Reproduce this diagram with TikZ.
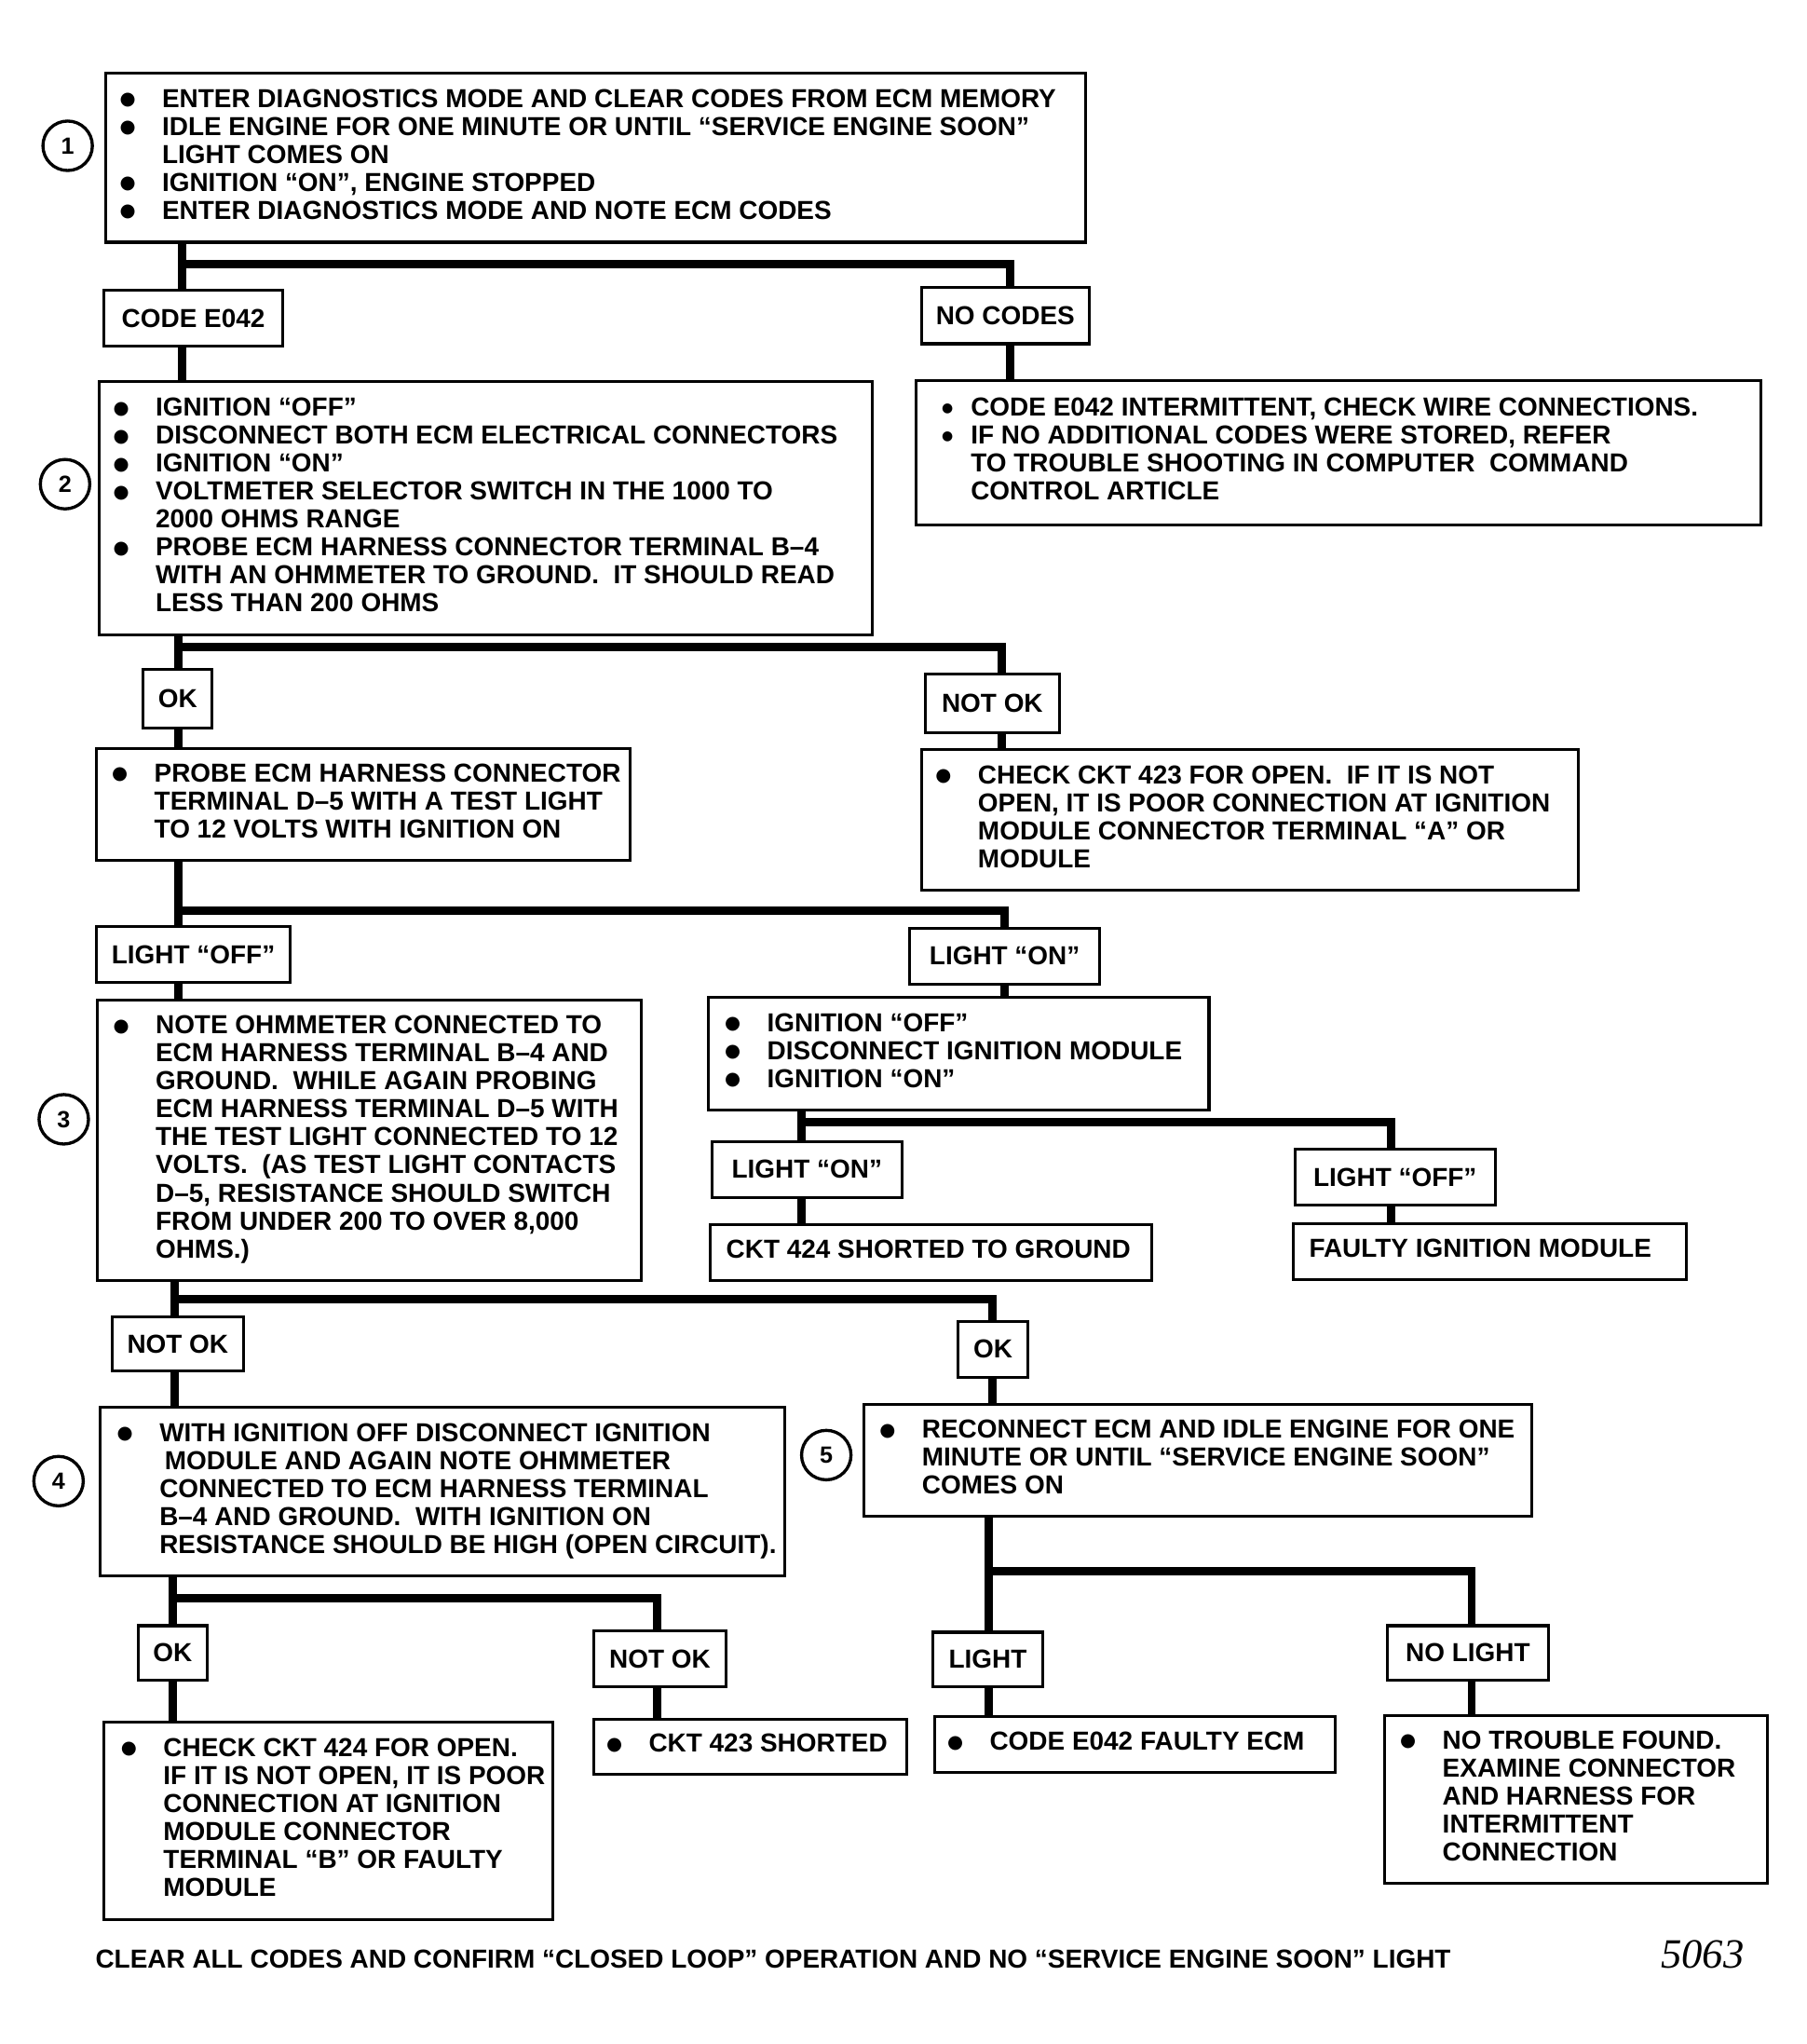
\documentclass[tikz,border=0pt]{standalone}
\usepackage{fontspec}
\setmainfont{Liberation Sans}
\newfontfamily\serifit{Liberation Serif}
\newfontfamily\dvs{DejaVu Sans}
\newcommand\bul{\makebox[15.5pt][l]{\makebox[4.5pt][c]{\raisebox{0.9pt}{\dvs\fontsize{7}{7}\selectfont ●}}}}
\newcommand\ind{\hspace*{15.5pt}}
\newcommand\bulb{\makebox[11.25pt][l]{\makebox[4.5pt][c]{\raisebox{1.3pt}{\dvs\fontsize{5}{5}\selectfont ●}}}}
\newcommand\indb{\hspace*{11.25pt}}
\newcommand\tb[2]{\makebox[#1][l]{\begin{tabular}{@{}l@{}}#2\end{tabular}}}
\begin{document}
\begin{tikzpicture}[x=0.5pt,y=-0.5pt,
  every node/.style={font=\fontsize{10}{10.75}\selectfont\bfseries},
  box/.style={draw, line width=1.1pt, inner ysep=0pt, anchor=north west},
  lbl/.style={draw, line width=1.1pt, inner sep=0pt, anchor=north west},
  num/.style={draw, circle, line width=1.2pt, inner sep=0pt, minimum size=19pt, font=\fontsize{9}{9}\selectfont\bfseries},
  conn/.style={line width=3.2pt, line join=miter, line cap=butt}]
\useasboundingbox (0,0) rectangle (1388,1570.5);
\fill[white] (0,0) rectangle (1388,1570.5);

% ---------- row 1
\node[box, inner xsep=6.25pt, minimum height=65pt] (b1) at (80,55) {\tb{364pt}{%
\bul ENTER DIAGNOSTICS MODE AND CLEAR CODES FROM ECM MEMORY\\
\bul IDLE ENGINE FOR ONE MINUTE OR UNTIL “SERVICE ENGINE SOON”\\
\ind LIGHT COMES ON\\
\bul IGNITION “ON”, ENGINE STOPPED\\
\bul ENTER DIAGNOSTICS MODE AND NOTE ECM CODES}};
\node[num] (c1) at (52,112) {1};

\node[lbl, minimum width=68.5pt, minimum height=21.5pt] (lCode) at (79,222) {CODE E042};
\node[lbl, minimum width=64.5pt, minimum height=21.5pt] (lNoCodes) at (707,220) {NO CODES};

% ---------- row 2
\node[box, inner xsep=6.25pt, minimum height=97.5pt] (b2) at (75,292) {\tb{284.5pt}{%
\bul IGNITION “OFF”\\
\bul DISCONNECT BOTH ECM ELECTRICAL CONNECTORS\\
\bul IGNITION “ON”\\
\bul VOLTMETER SELECTOR SWITCH IN THE 1000 TO\\
\ind 2000 OHMS RANGE\\
\bul PROBE ECM HARNESS CONNECTOR TERMINAL B--4\\
\ind WITH AN OHMMETER TO GROUND.\ \ IT SHOULD READ\\
\ind LESS THAN 200 OHMS}};
\node[num] (c2) at (50,372) {2};

\node[box, inner xsep=9.75pt, minimum height=55.5pt] (bR1) at (703,291) {\tb{305pt}{%
\bulb CODE E042 INTERMITTENT, CHECK WIRE CONNECTIONS.\\
\bulb IF NO ADDITIONAL CODES WERE STORED, REFER\\
\indb TO TROUBLE SHOOTING IN COMPUTER\ \ COMMAND\\
\indb CONTROL ARTICLE}};

\node[lbl, minimum width=26.5pt, minimum height=22.5pt] (lOK1) at (109,513) {OK};
\node[lbl, minimum width=51.5pt, minimum height=22.5pt] (lNotOK1) at (710,517) {NOT OK};

% ---------- row 3
\node[box, inner xsep=6.75pt, minimum height=43pt] (bProbe) at (73,574) {\tb{191.5pt}{%
\bul PROBE ECM HARNESS CONNECTOR\\
\ind TERMINAL D--5 WITH A TEST LIGHT\\
\ind TO 12 VOLTS WITH IGNITION ON}};

\node[box, inner xsep=6.25pt, minimum height=54pt] (bR2) at (707,575) {\tb{240pt}{%
\bul CHECK CKT 423 FOR OPEN.\ \ IF IT IS NOT\\
\ind OPEN, IT IS POOR CONNECTION AT IGNITION\\
\ind MODULE CONNECTOR TERMINAL “A” OR\\
\ind MODULE}};

\node[lbl, minimum width=74.5pt, minimum height=21.5pt] (lOff1) at (73,711) {LIGHT “OFF”};
\node[lbl, minimum width=73pt, minimum height=21.5pt] (lOn1) at (698,712) {LIGHT “ON”};

% ---------- row 4
\node[box, inner xsep=6.75pt, minimum height=108pt] (b3) at (74,767) {\tb{195.5pt}{%
\bul NOTE OHMMETER CONNECTED TO\\
\ind ECM HARNESS TERMINAL B--4 AND\\
\ind GROUND.\ \ WHILE AGAIN PROBING\\
\ind ECM HARNESS TERMINAL D--5 WITH\\
\ind THE TEST LIGHT CONNECTED TO 12\\
\ind VOLTS.\ \ (AS TEST LIGHT CONTACTS\\
\ind D--5, RESISTANCE SHOULD SWITCH\\
\ind FROM UNDER 200 TO OVER 8,000\\
\ind OHMS.)}};
\node[num] (c3) at (49,860) {3};

\node[box, inner xsep=7.25pt, minimum height=43.5pt] (bIgn) at (543,765) {\tb{178pt}{%
\bul IGNITION “OFF”\\
\bul DISCONNECT IGNITION MODULE\\
\bul IGNITION “ON”}};

\node[lbl, minimum width=73pt, minimum height=21.5pt] (lOn2) at (546,876) {LIGHT “ON”};
\node[lbl, minimum width=77pt, minimum height=21.5pt] (lOff2) at (994,882) {LIGHT “OFF”};
\node[box, inner xsep=6pt, minimum height=21.5pt] (bCkt424) at (545,940) {\tb{157.5pt}{CKT 424 SHORTED TO GROUND}};
\node[box, inner xsep=6pt, minimum height=21.5pt] (bFaulty) at (993,939) {\tb{139pt}{FAULTY IGNITION MODULE}};

% ---------- row 5
\node[lbl, minimum width=50.5pt, minimum height=20.5pt] (lNotOK2) at (85,1011) {NOT OK};
\node[lbl, minimum width=27pt, minimum height=21.5pt] (lOK2) at (735,1014) {OK};

\node[box, inner xsep=7.25pt, minimum height=65pt] (b4) at (76,1080) {\tb{248.5pt}{%
\bul WITH IGNITION OFF DISCONNECT IGNITION\\
\ind\hspace*{2pt}MODULE AND AGAIN NOTE OHMMETER\\
\ind CONNECTED TO ECM HARNESS TERMINAL\\
\ind B--4 AND GROUND.\ \ WITH IGNITION ON\\
\ind RESISTANCE SHOULD BE HIGH (OPEN CIRCUIT).}};
\node[num] (c4) at (45,1138) {4};

\node[box, inner xsep=6.75pt, minimum height=43pt] (b5) at (663,1078) {\tb{243pt}{%
\bul RECONNECT ECM AND IDLE ENGINE FOR ONE\\
\ind MINUTE OR UNTIL “SERVICE ENGINE SOON”\\
\ind COMES ON}};
\node[num] (c5) at (635,1118) {5};

% ---------- row 6
\node[lbl, minimum width=26.5pt, minimum height=21pt] (lOK3) at (105,1248) {OK};
\node[lbl, minimum width=51pt, minimum height=21.5pt] (lNotOK3) at (455,1252) {NOT OK};
\node[lbl, minimum width=42pt, minimum height=21pt] (lLight) at (716,1253) {LIGHT};
\node[lbl, minimum width=62pt, minimum height=21pt] (lNoLight) at (1065,1248) {NO LIGHT};

\node[box, inner xsep=7.25pt, minimum height=76pt] (bOpen) at (79,1322) {\tb{158pt}{%
\bul CHECK CKT 424 FOR OPEN.\\
\ind IF IT IS NOT OPEN, IT IS POOR\\
\ind CONNECTION AT IGNITION\\
\ind MODULE CONNECTOR\\
\ind TERMINAL “B” OR FAULTY\\
\ind MODULE}};
\node[box, inner xsep=5.75pt, minimum height=21pt] (b423) at (455,1320) {\tb{109pt}{\bul CKT 423 SHORTED}};
\node[box, inner xsep=5.75pt, minimum height=21.5pt] (bFaultyEcm) at (717,1318) {\tb{142.5pt}{\bul CODE E042 FAULTY ECM}};
\node[box, inner xsep=6.75pt, minimum height=64.5pt] (bNoTrouble) at (1063,1317) {\tb{133.5pt}{%
\bul NO TROUBLE FOUND.\\
\ind EXAMINE CONNECTOR\\
\ind AND HARNESS FOR\\
\ind INTERMITTENT\\
\ind CONNECTION}};

% ---------- footer
\node[anchor=base west, inner sep=0pt] (foot) at (73,1512) {CLEAR ALL CODES AND CONFIRM “CLOSED LOOP” OPERATION AND NO “SERVICE ENGINE SOON” LIGHT};
\node[anchor=base west, inner sep=0pt, font=\serifit\itshape\fontsize{16}{16}\selectfont] (fig) at (1276,1512) {5063};

% ---------- connectors
\coordinate (t1) at (140,203); \coordinate (r1) at (776,203);
\draw[conn] (b1.south -| t1) -- (lCode.north -| t1);
\draw[conn] (t1) -| (lNoCodes.north -| r1);
\draw[conn] (lCode.south -| t1) -- (b2.north -| t1);
\draw[conn] (lNoCodes.south -| r1) -- (bR1.north -| r1);

\coordinate (t2) at (137,497); \coordinate (r2) at (770,497);
\draw[conn] (b2.south -| t2) -- (lOK1.north -| t2);
\draw[conn] (t2) -| (lNotOK1.north -| r2);
\draw[conn] (lOK1.south -| t2) -- (bProbe.north -| t2);
\draw[conn] (lNotOK1.south -| r2) -- (bR2.north -| r2);

\coordinate (t3) at (137,700); \coordinate (r3) at (772,700);
\draw[conn] (bProbe.south -| t3) -- (lOff1.north -| t3);
\draw[conn] (t3) -| (lOn1.north -| r3);
\draw[conn] (lOff1.south -| t3) -- (b3.north -| t3);
\draw[conn] (lOn1.south -| r3) -- (bIgn.north -| r3);

\coordinate (t4) at (616,862); \coordinate (r4) at (1069,862);
\draw[conn] (bIgn.south -| t4) -- (lOn2.north -| t4);
\draw[conn] (t4) -| (lOff2.north -| r4);
\draw[conn] (lOn2.south -| t4) -- (bCkt424.north -| t4);
\draw[conn] (lOff2.south -| r4) -- (bFaulty.north -| r4);

\coordinate (t5) at (134,998); \coordinate (r5) at (763,998);
\draw[conn] (b3.south -| t5) -- (lNotOK2.north -| t5);
\draw[conn] (t5) -| (lOK2.north -| r5);
\draw[conn] (lNotOK2.south -| t5) -- (b4.north -| t5);
\draw[conn] (lOK2.south -| r5) -- (b5.north -| r5);

\coordinate (t6) at (133,1228); \coordinate (r6) at (505,1228);
\draw[conn] (b4.south -| t6) -- (lOK3.north -| t6);
\draw[conn] (t6) -| (lNotOK3.north -| r6);
\draw[conn] (lOK3.south -| t6) -- (bOpen.north -| t6);
\draw[conn] (lNotOK3.south -| r6) -- (b423.north -| r6);

\coordinate (t7) at (760,1207); \coordinate (r7) at (1131,1207);
\draw[conn] (b5.south -| t7) -- (lLight.north -| t7);
\draw[conn] (t7) -| (lNoLight.north -| r7);
\draw[conn] (lLight.south -| t7) -- (bFaultyEcm.north -| t7);
\draw[conn] (lNoLight.south -| r7) -- (bNoTrouble.north -| r7);
\end{tikzpicture}
\end{document}
